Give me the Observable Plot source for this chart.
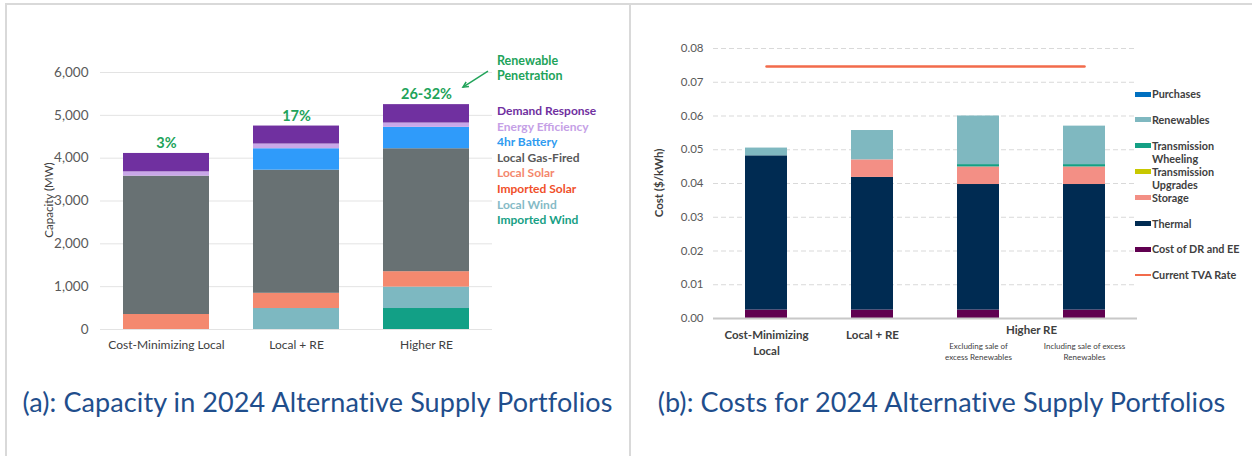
<!DOCTYPE html>
<html>
<head>
<meta charset="utf-8">
<script src="https://cdn.jsdelivr.net/npm/d3@7"></script>
<script src="https://cdn.jsdelivr.net/npm/@observablehq/plot@0.6"></script>
<style>
  html, body { margin: 0; padding: 0; background: #fff; }
  #root { position: relative; width: 1252px; height: 456px; background: #fff; overflow: hidden; font-family: Lato, "Open Sans", sans-serif; }
  .abs { position: absolute; }
  .border { position: absolute; background: #D9D9D9; }
  .caption { position: absolute; top: 385px; text-align: center; font-size: 27px; letter-spacing: 0.1px; color: #1F4E8C; white-space: nowrap; }
  .legA { position: absolute; left: 497px; font-weight: bold; font-size: 12px; line-height: 15.6px; white-space: nowrap; }
  .legB { position: absolute; left: 1135px; font-weight: bold; font-size: 10.8px; color: #404040; line-height: 13.6px; width: 112px; }
  .legB .sw { position: absolute; left: 0; width: 16px; }
  .legB .tx { margin-left: 17px; }
  .ytitle { position: absolute; transform: translate(-50%, -50%) rotate(-90deg); white-space: nowrap; }
</style>
</head>
<body>
<div id="root"></div>
<script>
// ---------- Panel (a): Capacity in 2024 ----------
const capCategories = ["Cost-Minimizing Local", "Local + RE", "Higher RE"];
// stacking order, bottom to top
const capSeries = ["Imported Wind", "Local Wind", "Imported Solar", "Local Solar", "Local Gas-Fired", "4hr Battery", "Energy Efficiency", "Demand Response"];
const capColors = ["#12A086", "#7DB8C1", "#F0502A", "#F4896F", "#687173", "#2F9BFA", "#C9A7E8", "#7030A0"];
const capImportedWind   = [0, 0, 490];
const capLocalWind      = [0, 490, 500];
const capImportedSolar  = [0, 0, 0];
const capLocalSolar     = [350, 355, 360];
const capLocalGas       = [3230, 2875, 2870];
const capBattery        = [0, 500, 500];
const capEnergyEff      = [100, 110, 100];
const capDemandResp     = [430, 420, 430];
const capPenetration    = ["3%", "17%", "26-32%"];
const capTicks = [0, 1000, 2000, 3000, 4000, 5000, 6000];
// legend order (top to bottom) and text colours
const capLegend = ["Demand Response", "Energy Efficiency", "4hr Battery", "Local Gas-Fired", "Local Solar", "Imported Solar", "Local Wind", "Imported Wind"];
const capLegendColors = ["#7030A0", "#C5A0E6", "#2E9BF0", "#595959", "#F4876C", "#F0502A", "#85BAC6", "#17A085"];

// ---------- Panel (b): Costs for 2024 ----------
const costCategories = ["Cost-Minimizing Local", "Local + RE", "Higher RE (excluding sale)", "Higher RE (including sale)"];
const costLabels = ["Cost-Minimizing\nLocal", "Local + RE", "Excluding sale of\nexcess Renewables", "Including sale of excess\nRenewables"];
const costGroupLabel = "Higher RE";
// stacking order, bottom to top
const costSeries = ["Cost of DR and EE", "Thermal", "Storage", "Transmission Upgrades", "Transmission Wheeling", "Renewables", "Purchases"];
const costColors = ["#600050", "#002B52", "#F38F85", "#C8C800", "#14A085", "#7FB8C0", "#0070C0"];
const costDREE        = [0.0025, 0.0025, 0.0025, 0.0025];
const costThermal     = [0.0457, 0.0393, 0.0372, 0.0372];
const costStorage     = [0, 0.0052, 0.0052, 0.0052];
const costUpgrades    = [0, 0, 0, 0];
const costWheeling    = [0, 0, 0.0007, 0.0007];
const costRenewables  = [0.0023, 0.0087, 0.0144, 0.0114];
const costPurchases   = [0, 0, 0, 0];
const tvaRate = 0.0747;
const costTicks = [0, 0.01, 0.02, 0.03, 0.04, 0.05, 0.06, 0.07, 0.08];
const costLegend = ["Purchases", "Renewables", "Transmission Wheeling", "Transmission Upgrades", "Storage", "Thermal", "Cost of DR and EE", "Current TVA Rate"];

// ---------- build tables ----------
const capValues = [capImportedWind, capLocalWind, capImportedSolar, capLocalSolar, capLocalGas, capBattery, capEnergyEff, capDemandResp];
const capData = [];
capSeries.forEach((s, si) => capCategories.forEach((c, ci) => {
  if (capValues[si][ci] > 0) capData.push({category: c, series: s, value: capValues[si][ci]});
}));
const capTotals = capCategories.map((c, ci) => ({category: c, total: d3.sum(capValues, v => v[ci]), label: capPenetration[ci]}));

const costValues = [costDREE, costThermal, costStorage, costUpgrades, costWheeling, costRenewables, costPurchases];
const costData = [];
costSeries.forEach((s, si) => costCategories.forEach((c, ci) => {
  if (costValues[si][ci] > 0) costData.push({category: c, series: s, value: costValues[si][ci]});
}));
const tvaData = costCategories.map(c => ({category: c, value: tvaRate}));
const costLabelData = costCategories.map((c, i) => ({category: c, label: costLabels[i], main: i < 2}));

const root = document.getElementById("root");

// borders
[[5, 3, 1247, 2], [5, 3, 2, 453], [629, 3, 2, 453]].forEach(([l, t, w, h]) => {
  const d = document.createElement("div");
  d.className = "border";
  Object.assign(d.style, {left: l + "px", top: t + "px", width: w + "px", height: h + "px"});
  root.appendChild(d);
});

// ---------- Plot (a) ----------
const left = Plot.plot({
  width: 630, height: 370,
  marginLeft: 100, marginRight: 138, marginTop: 72, marginBottom: 41,
  style: {fontFamily: "Lato, sans-serif", fontSize: "13px", color: "#595959", background: "transparent", overflow: "visible"},
  x: {domain: capCategories, paddingInner: 0.335, paddingOuter: 0.1675, axis: null},
  y: {domain: [0, 6000], axis: null},
  color: {domain: capSeries, range: capColors},
  marks: [
    Plot.ruleY(capTicks, {stroke: "#E3E3E3", strokeWidth: 1}),
    Plot.barY(capData, {x: "category", y: "value", fill: "series"}),
    Plot.text(capTotals, {x: "category", y: "total", text: "label", dy: -10, lineAnchor: "middle", fill: "#22A35A", fontWeight: "bold", fontSize: 14.5}),
    Plot.axisY({ticks: capTicks, tickSize: 0, tickPadding: 12, tickFormat: d3.format(","), fontSize: 13.5, label: null}),
    Plot.axisX({tickSize: 0, tickPadding: 11, fontSize: 12, label: null, fill: "#404040"})
  ]
});
left.style.position = "absolute"; left.style.left = "0px"; left.style.top = "0px";
root.appendChild(left);

// annotation arrow, anchored to the Higher RE bar top via the Plot scales
{
  const sx = left.scale("x"), sy = left.scale("y");
  const hi = capTotals[2];
  const cx = sx.apply(hi.category) + sx.bandwidth / 2;
  const ty = sy.apply(hi.total);
  const svg = d3.select(left);
  const x1 = cx + 62, y1 = ty - 33, x2 = cx + 37, y2 = ty - 17;
  const ang = Math.atan2(y2 - y1, x2 - x1);
  const ah = 6;
  svg.append("path")
    .attr("d", `M${x1},${y1}L${x2},${y2}`)
    .attr("stroke", "#22A35A").attr("stroke-width", 1.5).attr("fill", "none");
  svg.append("path")
    .attr("d", `M${x2 - ah * Math.cos(ang - 0.45)},${y2 - ah * Math.sin(ang - 0.45)}L${x2},${y2}L${x2 - ah * Math.cos(ang + 0.45)},${y2 - ah * Math.sin(ang + 0.45)}`)
    .attr("stroke", "#22A35A").attr("stroke-width", 1.5).attr("fill", "none");
}

// y title (a)
{
  const t = document.createElement("div");
  t.className = "ytitle";
  Object.assign(t.style, {left: "48px", top: "200px", fontSize: "11.5px", color: "#404040"});
  t.textContent = "Capacity (MW)";
  root.appendChild(t);
}
// annotation text (a)
{
  const t = document.createElement("div");
  t.className = "abs";
  Object.assign(t.style, {left: "497px", top: "53px", fontSize: "12.5px", fontWeight: "bold", color: "#22A35A", lineHeight: "15px"});
  t.innerHTML = "Renewable<br>Penetration";
  root.appendChild(t);
}
// legend (a)
capLegend.forEach((name, i) => {
  const d = document.createElement("div");
  d.className = "legA";
  d.style.top = (103 + i * 15.6) + "px";
  d.style.color = capLegendColors[i];
  d.textContent = name;
  root.appendChild(d);
});

// ---------- Plot (b) ----------
const right = Plot.plot({
  width: 621, height: 370,
  marginLeft: 82, marginRight: 115, marginTop: 48, marginBottom: 52,
  style: {fontFamily: "Lato, sans-serif", fontSize: "12px", color: "#595959", background: "transparent", overflow: "visible"},
  x: {domain: costCategories, paddingInner: 0.6, paddingOuter: 0.3, axis: null},
  y: {domain: [0, 0.08], axis: null},
  color: {domain: costSeries, range: costColors},
  marks: [
    Plot.ruleY(costTicks.filter(d => d > 0), {stroke: "#D9D9D9", strokeDasharray: "5,3", strokeWidth: 1}),
    Plot.barY(costData, {x: "category", y: "value", fill: "series"}),
    Plot.ruleY([0], {stroke: "#C8C8C8", strokeWidth: 2}),
    Plot.lineY(tvaData, {x: "category", y: "value", stroke: "#F26B4B", strokeWidth: 2.5}),
    Plot.axisY({ticks: costTicks, tickSize: 0, tickPadding: 10, tickFormat: d3.format(".2f"), fontSize: 11.5, label: null}),
    Plot.text(costLabelData.filter(d => d.main), {x: "category", text: "label", frameAnchor: "bottom", lineAnchor: "top", dy: 9, fontWeight: "bold", fontSize: 11.5, fill: "#404040", lineHeight: 1.4}),
    Plot.text(costLabelData.filter(d => !d.main), {x: "category", text: "label", frameAnchor: "bottom", lineAnchor: "top", dy: 22, fontSize: 8, fill: "#404040", lineHeight: 1.45}),
    Plot.text([costLabelData[2]], {x: "category", text: () => costGroupLabel, frameAnchor: "bottom", lineAnchor: "top", dy: 7, dx: 53, fontWeight: "bold", fontSize: 11.5, fill: "#404040"})
  ]
});
right.style.position = "absolute"; right.style.left = "631px"; right.style.top = "0px";
root.appendChild(right);

// y title (b)
{
  const t = document.createElement("div");
  t.className = "ytitle";
  Object.assign(t.style, {left: "658px", top: "183px", fontSize: "11.5px", fontWeight: "bold", color: "#404040"});
  t.textContent = "Cost ($/kWh)";
  root.appendChild(t);
}
// legend (b)
const costLegendColor = name => name === "Current TVA Rate" ? "#F26B4B" : costColors[costSeries.indexOf(name)];
costLegend.forEach((name, i) => {
  const d = document.createElement("div");
  d.className = "legB";
  d.style.top = (87 + i * 25.9) + "px";
  const sw = document.createElement("div");
  sw.className = "sw";
  const isLine = name === "Current TVA Rate";
  Object.assign(sw.style, {top: isLine ? "6px" : "4.5px", height: isLine ? "2px" : "5px", background: costLegendColor(name)});
  const tx = document.createElement("div");
  tx.className = "tx";
  tx.textContent = name;
  d.appendChild(sw); d.appendChild(tx);
  root.appendChild(d);
});

// captions
[["(a): Capacity in 2024 Alternative Supply Portfolios", 6, 623], ["(b): Costs for 2024 Alternative Supply Portfolios", 631, 621]].forEach(([txt, l, w]) => {
  const c = document.createElement("div");
  c.className = "caption";
  Object.assign(c.style, {left: l + "px", width: w + "px"});
  c.textContent = txt;
  root.appendChild(c);
});
</script>
</body>
</html>
